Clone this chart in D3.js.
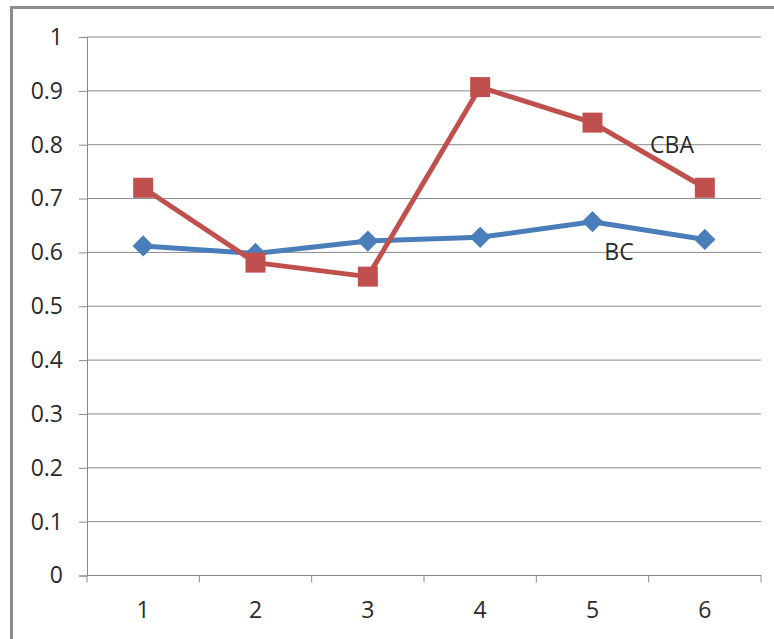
<!DOCTYPE html>
<html>
<head>
<meta charset="utf-8">
<script src="https://cdn.jsdelivr.net/npm/d3@7"></script>
<style>
  html, body { margin: 0; padding: 0; background: #fff; }
  svg { display: block; }
  text { font-family: "Open Sans", "Liberation Sans", sans-serif; fill: #2a2a2a; }
</style>
</head>
<body>
<svg id="chart" width="774" height="639"></svg>
<script>
// Categories along the x axis
const categories = ["1", "2", "3", "4", "5", "6"];
// Series values
const cbaValues = [0.72, 0.581, 0.555, 0.907, 0.841, 0.72];
const bcValues = [0.612, 0.598, 0.621, 0.628, 0.657, 0.624];
// Y axis ticks
const yTicks = [0, 0.1, 0.2, 0.3, 0.4, 0.5, 0.6, 0.7, 0.8, 0.9, 1];
// Series names used as inline labels
const seriesNames = ["CBA", "BC"];

const svg = d3.select("#chart");

// Outer frame
svg.append("rect")
  .attr("x", 11.5).attr("y", 7.5)
  .attr("width", 780).attr("height", 650)
  .attr("fill", "#fff")
  .attr("stroke", "#8c8c8c")
  .attr("stroke-width", 3);

const plot = { left: 87, right: 761, top: 37, bottom: 575.5 };

const x = d3.scaleBand().domain(categories).range([plot.left, plot.right]);
const y = d3.scaleLinear().domain([0, 1]).range([plot.bottom, plot.top]);

// Horizontal gridlines
svg.append("g")
  .selectAll("line")
  .data(yTicks.filter(d => d > 0))
  .join("line")
  .attr("x1", plot.left).attr("x2", plot.right)
  .attr("y1", d => y(d)).attr("y2", d => y(d))
  .attr("stroke", "#8a8a8a").attr("stroke-width", 1);

// Y axis
const yAxis = svg.append("g")
  .attr("transform", `translate(${plot.left},0)`)
  .call(d3.axisLeft(y).tickValues(yTicks).tickSize(8).tickPadding(16)
    .tickFormat(d => d === 0 || d === 1 ? d3.format("d")(d) : d3.format(".1f")(d)));
yAxis.select(".domain").attr("stroke", "#8a8a8a");
yAxis.selectAll(".tick line").attr("stroke", "#8a8a8a");
yAxis.selectAll(".tick text")
  .style("font-size", "23px")
  .attr("fill", "#2a2a2a");

// X axis with ticks at band boundaries
const xAxisG = svg.append("g")
  .attr("transform", `translate(0,${plot.bottom})`);
xAxisG.append("line")
  .attr("x1", plot.left).attr("x2", plot.right)
  .attr("y1", 0).attr("y2", 0)
  .attr("stroke", "#8a8a8a");
const boundaries = categories.map(c => x(c)).concat([x(categories[categories.length - 1]) + x.bandwidth()]);
xAxisG.selectAll("line.tick")
  .data(boundaries)
  .join("line")
  .attr("class", "tick")
  .attr("x1", d => d).attr("x2", d => d)
  .attr("y1", 0).attr("y2", 7)
  .attr("stroke", "#8a8a8a");
xAxisG.selectAll("text")
  .data(categories)
  .join("text")
  .attr("x", d => x(d) + x.bandwidth() / 2)
  .attr("y", 42)
  .attr("text-anchor", "middle")
  .style("font-size", "23px")
  .text(d => d);

const cx = (d, i) => x(categories[i]) + x.bandwidth() / 2;
const line = d3.line().x((d, i) => cx(d, i)).y(d => y(d));

// BC series (blue, diamonds)
svg.append("path")
  .datum(bcValues)
  .attr("d", line)
  .attr("fill", "none")
  .attr("stroke", "#4a7ebb")
  .attr("stroke-width", 5)
  .attr("stroke-linejoin", "round");
svg.append("g")
  .selectAll("path")
  .data(bcValues)
  .join("path")
  .attr("d", d3.symbol(d3.symbolSquare, 225)())
  .attr("transform", (d, i) => `translate(${cx(d, i)},${y(d)}) rotate(45)`)
  .attr("fill", "#4a7ebb");

// CBA series (red, squares)
svg.append("path")
  .datum(cbaValues)
  .attr("d", line)
  .attr("fill", "none")
  .attr("stroke", "#c0504d")
  .attr("stroke-width", 5)
  .attr("stroke-linejoin", "round");
svg.append("g")
  .selectAll("rect")
  .data(cbaValues)
  .join("rect")
  .attr("x", (d, i) => cx(d, i) - 10)
  .attr("y", d => y(d) - 10)
  .attr("width", 20).attr("height", 20)
  .attr("fill", "#c0504d");

// Inline series labels
svg.append("text")
  .attr("x", 672).attr("y", 153)
  .attr("text-anchor", "middle")
  .style("font-size", "23px")
  .text(seriesNames[0]);
svg.append("text")
  .attr("x", 619).attr("y", 260)
  .attr("text-anchor", "middle")
  .style("font-size", "23px")
  .text(seriesNames[1]);
</script>
</body>
</html>
